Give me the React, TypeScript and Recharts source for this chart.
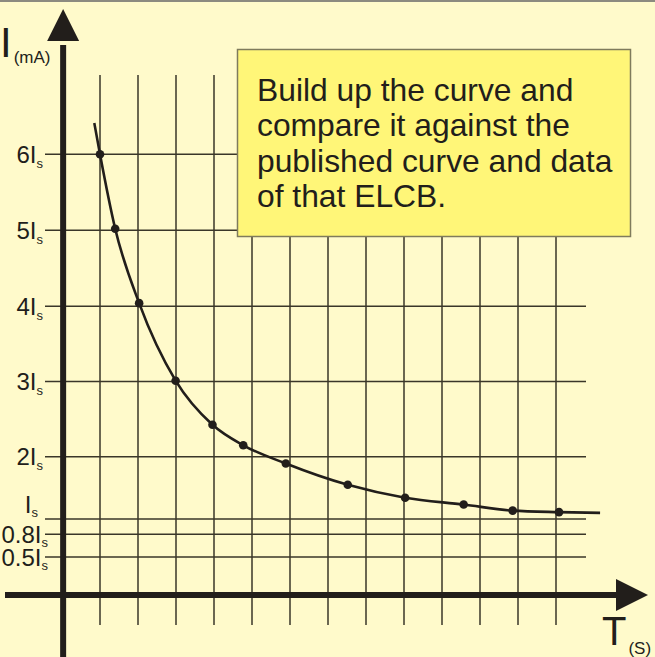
import React from 'react';
import { ComposedChart, Line, Scatter, XAxis, YAxis, ReferenceLine, ReferenceDot } from 'recharts';

// Curve through the measured points (time in grid units, current in chart units)
const timeValues = [0.85, 1.0, 1.4, 2.03, 2.99, 3.96, 4.77, 5.89, 7.52, 9.03, 10.57, 11.86, 13.08, 14.16];
const currentValues = [6.21, 5.8, 4.82, 3.84, 2.82, 2.24, 1.97, 1.73, 1.45, 1.28, 1.19, 1.11, 1.09, 1.08];
const measuredFlags = [false, true, true, true, true, true, true, true, true, true, true, true, true, false];

// Grid
const gridTimes = [1, 2, 3, 4, 5, 6, 7, 8, 9, 10, 11, 12, 13];
const yTickValues = [5.8, 4.8, 3.8, 2.81, 1.82, 1.0, 0.8, 0.5];
const yTickMultipliers = ['6', '5', '4', '3', '2', '', '0.8', '0.5'];

const noteLines = ['Build up the curve and', 'compare it against the', 'published curve and data', 'of that ELCB.'];

const W = 655;
const H = 657;
const ORIGIN_X = 62;
const ORIGIN_Y = 595;
const PX_PER_T = 38;
const PX_PER_I = 76;
const X_DOMAIN: [number, number] = [-ORIGIN_X / PX_PER_T, (W - ORIGIN_X) / PX_PER_T];
const Y_DOMAIN: [number, number] = [-(H - ORIGIN_Y) / PX_PER_I, ORIGIN_Y / PX_PER_I];
const tx = (px: number) => (px - ORIGIN_X) / PX_PER_T;
const iy = (py: number) => (ORIGIN_Y - py) / PX_PER_I;

const FONT = '"Liberation Sans", Arial, Helvetica, sans-serif';
const INK = '#221e1b';
const GRID = '#3a3629';
const BG = '#fffacb';

const curveData = timeValues.map((t, i) => ({ t, v: currentValues[i] }));
const markerData = curveData.filter((_, i) => measuredFlags[i]);

const makeTickLabel = (mult: string) => (props: any) => {
  const vb = props.viewBox || {};
  const raised = mult === '';
  const decimal = mult.indexOf('.') >= 0;
  const x = vb.x + (raised ? -7 : decimal ? 3 : -2);
  const base = vb.y + (raised ? -6 : 8.5);
  return (
    <text x={x} y={base} textAnchor="end" fontFamily={FONT} fontSize={24} fill={INK}>
      {mult}I
      <tspan fontSize={13} dy={raised ? 4 : decimal ? 4 : 5}>s</tspan>
    </text>
  );
};

const upArrow = (p: any) => (
  <polygon points={`${p.cx - 16},${p.cy} ${p.cx + 16},${p.cy} ${p.cx},${p.cy - 32}`} fill={INK} />
);
const rightArrow = (p: any) => (
  <polygon points={`${p.cx},${p.cy - 16} ${p.cx},${p.cy + 16} ${p.cx + 32},${p.cy}`} fill={INK} />
);

export default function App() {
  return (
    <div style={{ position: 'absolute', left: 0, top: 0, width: W, height: H, background: BG, overflow: 'hidden' }}>
      <ComposedChart width={W} height={H} margin={{ top: 0, right: 0, bottom: 0, left: 0 }}>
        <XAxis type="number" dataKey="t" domain={X_DOMAIN} hide allowDataOverflow />
        <YAxis type="number" dataKey="v" domain={Y_DOMAIN} hide allowDataOverflow />
        {gridTimes.map((t) => (
          <ReferenceLine
            key={'vg' + t}
            segment={[{ x: t, y: iy(75) }, { x: t, y: iy(625) }]}
            stroke={GRID}
            strokeWidth={1.5}
            ifOverflow="visible"
          />
        ))}
        {yTickValues.map((v, i) => (
          <ReferenceLine
            key={'hg' + i}
            segment={[{ x: tx(45), y: v }, { x: tx(586), y: v }]}
            stroke={GRID}
            strokeWidth={1.5}
            ifOverflow="visible"
            label={makeTickLabel(yTickMultipliers[i])}
          />
        ))}
        <ReferenceLine
          segment={[{ x: 0.03, y: Y_DOMAIN[0] }, { x: 0.03, y: iy(45) }]}
          stroke={INK}
          strokeWidth={6}
          ifOverflow="visible"
        />
        <ReferenceLine
          segment={[{ x: tx(5), y: 0 }, { x: tx(620), y: 0 }]}
          stroke={INK}
          strokeWidth={6}
          ifOverflow="visible"
        />
        <ReferenceDot x={0.03} y={iy(41)} r={1} shape={upArrow} ifOverflow="visible" />
        <ReferenceDot x={tx(616)} y={0} r={1} shape={rightArrow} ifOverflow="visible" />
        <Line
          data={curveData}
          dataKey="v"
          type="monotone"
          stroke={INK}
          strokeWidth={2.6}
          dot={false}
          activeDot={false}
          isAnimationActive={false}
        />
        <Scatter data={markerData} dataKey="v" fill={INK} isAnimationActive={false} shape={(p: any) => <circle cx={p.cx} cy={p.cy} r={4.3} fill={INK} />} />
      </ComposedChart>
      <svg width={W} height={H} style={{ position: 'absolute', left: 0, top: 0, pointerEvents: 'none' }}>
        <line x1={0} y1={1} x2={W} y2={1} stroke="#8c8a80" strokeWidth={2} />
        <rect x={237.5} y={49.5} width={393} height={187} fill="#fff678" stroke="#7f7b5c" strokeWidth={1.5} />
        {noteLines.map((s, i) => (
          <text key={i} x={257} y={101 + i * 35.3} fontFamily={FONT} fontSize={31.8} fill={INK}>
            {s}
          </text>
        ))}
        <text x={0} y={57} fontFamily={FONT} fontSize={42} fill={INK}>
          I<tspan fontSize={17} dy={6} dx={2}>(mA)</tspan>
        </text>
        <text x={602} y={645} fontFamily={FONT} fontSize={40} fill={INK}>
          T<tspan fontSize={17} dy={9} dx={2}>(S)</tspan>
        </text>
      </svg>
    </div>
  );
}
